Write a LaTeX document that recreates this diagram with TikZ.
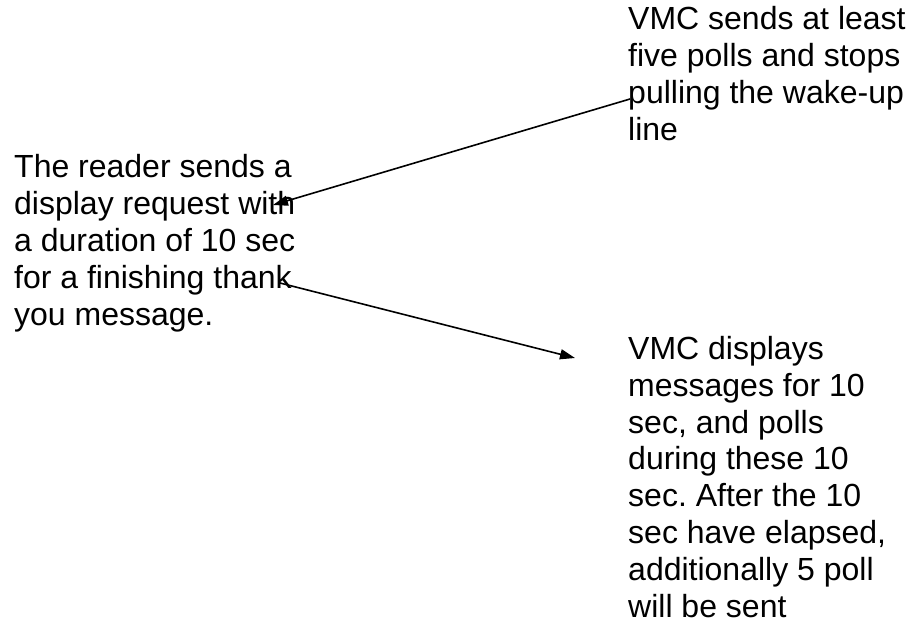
\documentclass[tikz,border=0pt]{standalone}
\usepackage{fontspec}
\setmainfont{Liberation Sans}
\usetikzlibrary{arrows.meta}
\frenchspacing
\begin{document}
\begin{tikzpicture}[x=1pt,y=-1pt,
  txt/.style={inner sep=0pt,anchor=base west,align=left,font=\fontsize{32}{36.8}\selectfont\frenchspacing},
  conn/.style={line width=1.6pt,-{Triangle[length=15pt,width=10pt]}}]
\useasboundingbox (0,0) rectangle (918,630);
\node[txt] (left) at (14,325) {The reader sends a\\display request with\\a duration of 10 sec\\for a finishing thank\\you message.};
\node[txt] (topright) at (628,140) {VMC sends at least\\five polls and stops\\pulling the wake-up\\line};
\node[txt] (botright) at (628,617) {VMC displays\\messages for 10\\sec, and polls\\during these 10\\sec. After the 10\\sec have elapsed,\\additionally 5 poll\\will be sent};
\coordinate (s1) at (630,99);
\coordinate (e1) at (273,205);
\coordinate (s2) at (280,283);
\coordinate (e2) at (575,358);
\draw[conn] (s1) -- (e1);
\draw[conn] (s2) -- (e2);
\end{tikzpicture}
\end{document}
